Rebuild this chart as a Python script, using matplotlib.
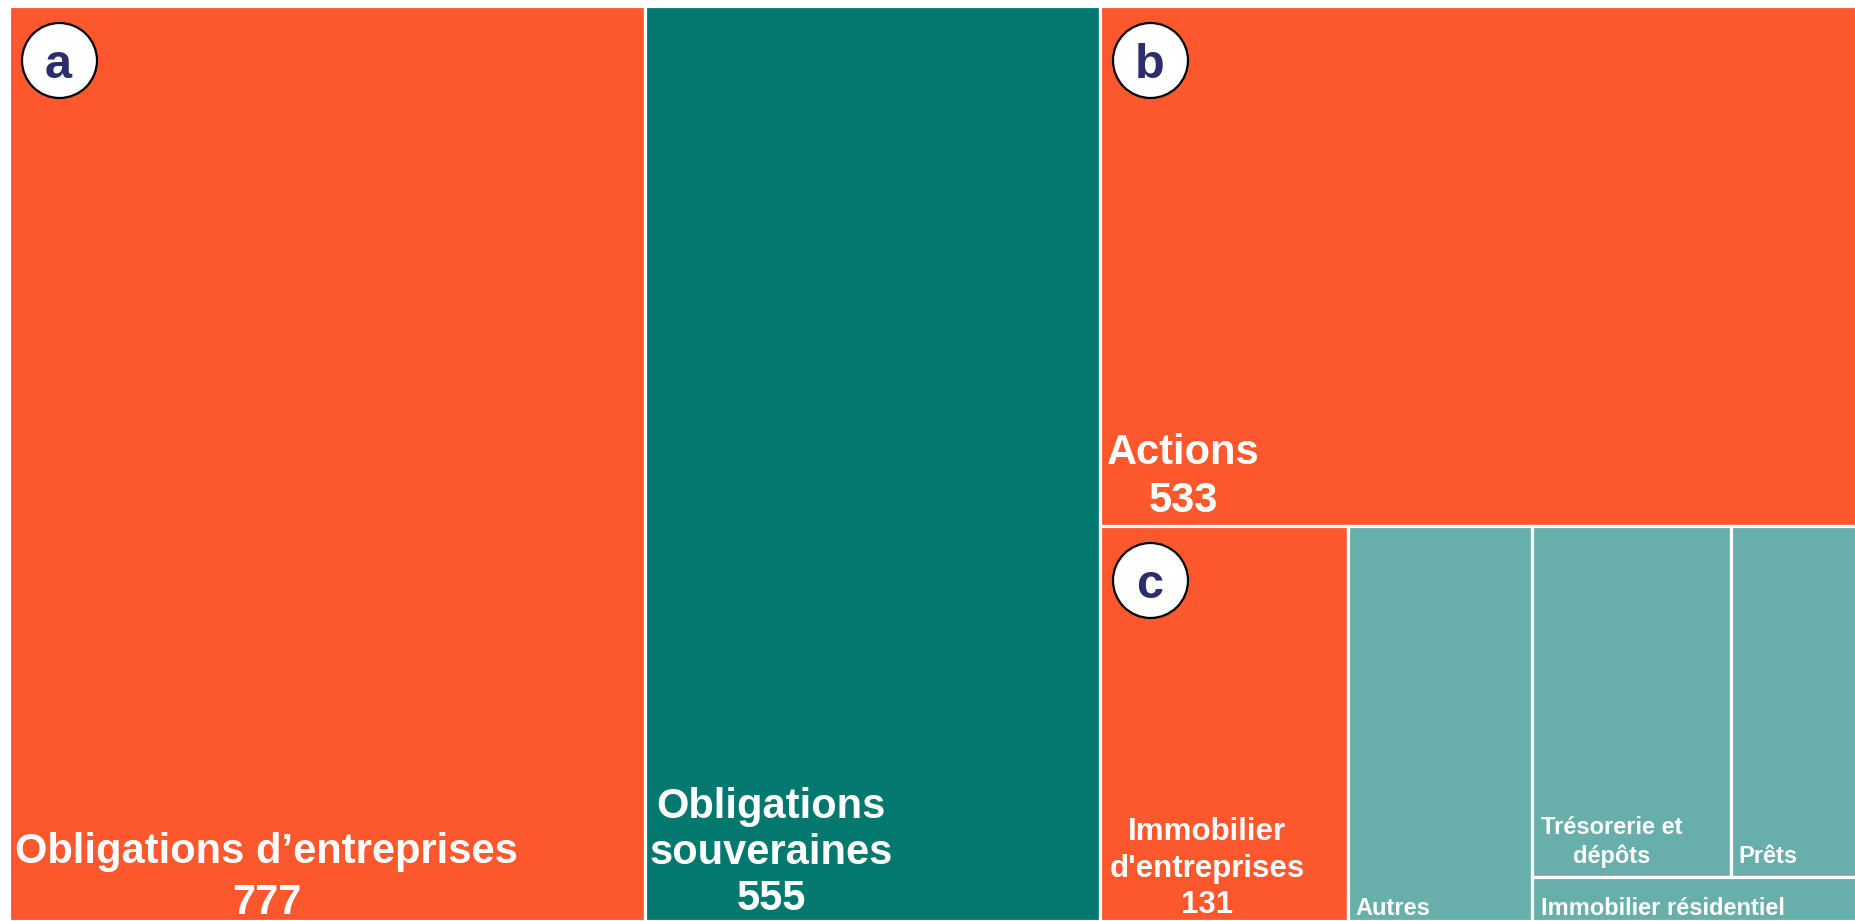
import matplotlib.pyplot as plt
from matplotlib.patches import Rectangle
from matplotlib.transforms import offset_copy

plt.rcParams["font.family"] = ["Liberation Sans", "DejaVu Sans"]
plt.rcParams["font.weight"] = "bold"

# tuiles du treemap (valeurs en milliards)
labels = ["Obligations d’entreprises", "Obligations\nsouveraines", "Actions",
          "Immobilier\nd'entreprises", "Autres", "Trésorerie et\ndépôts", "Prêts",
          "Immobilier résidentiel"]
values = [777, 555, 533, 131, 97, 93, 65, 20]
show_value = [True, True, True, True, False, False, False, False]
badges = {0: "a", 2: "b", 3: "c"}

ORANGE = "#fc572d"
TEAL = "#03786e"
LTEAL = "#68aeaa"
colors = [ORANGE, TEAL, ORANGE, ORANGE, LTEAL, LTEAL, LTEAL, LTEAL]

# découpage : 'h' = côte à côte, 'v' = empilé
tree = ("h", [0, 1, ("v", [2, ("h", [3, 4, ("v", [("h", [5, 6]), 7])])])])

# étiquettes : décalage (px) depuis le coin bas-gauche de la tuile jusqu'à
# la ligne de base de la dernière ligne ; ha, taille, interligne
label_style = [
    (258, 7, "center", 30, 1.36),
    (126, 11, "center", 30, 1.19),
    (83, 14, "center", 30, 1.25),
    (107, 8, "center", 22.5, 1.28),
    (7, 6, "left", 17, 1.2),
    (80, 14, "center", 17, 1.28),
    (8, 14, "left", 17, 1.2),
    (9, 6, "left", 17, 1.2),
]


def total(node):
    if isinstance(node, int):
        return values[node]
    return sum(total(k) for k in node[1])


def layout(node, x, y, w, h, out):
    if isinstance(node, int):
        out[node] = (x, y, w, h)
        return
    d, kids = node
    s = total(node)
    for k in kids:
        f = total(k) / s
        if d == "h":
            layout(k, x, y, w * f, h, out)
            x += w * f
        else:
            layout(k, x, y, w, h * f, out)
            y += h * f


rects = {}
layout(tree, 0, 0, 1, 1, rects)

W, H = 1855, 921
fig = plt.figure(figsize=(W / 100, H / 100), dpi=100)
ax = fig.add_axes([8.5 / W, 0, 1 - 8.5 / W, (H - 6.5) / H])
ax.set_xlim(0, 0.9922)   # le bord droit est rogné
ax.set_ylim(1, 0)
ax.axis("off")

PX = 0.72  # points par pixel à 100 dpi

for i in range(len(values)):
    x, y, w, h = rects[i]
    ax.add_patch(Rectangle((x, y), w, h, facecolor=colors[i], edgecolor="white",
                           linewidth=2.3))
    txt = labels[i]
    if show_value[i]:
        txt += "\n" + str(values[i])
    dx, dy, ha, fs, ls = label_style[i]
    ax.annotate(txt, xy=(x, y + h), xytext=(dx * PX, dy * PX), textcoords="offset points",
                ha=ha, va="baseline", multialignment="center", fontsize=fs,
                linespacing=ls, color="white", fontweight="bold", annotation_clip=False)

    if i in badges:
        tr = offset_copy(ax.transData, fig=fig, x=50 * PX, y=-54 * PX, units="points")
        ax.plot([x], [y], marker="o", ms=54, mfc="white", mec="black", mew=1.6,
                transform=tr, clip_on=False)
        tr2 = offset_copy(ax.transData, fig=fig, x=50 * PX, y=(-54 - 18) * PX, units="points")
        ax.text(x, y, badges[i], transform=tr2, ha="center", va="baseline",
                fontsize=35, fontweight="bold", color="#2b2d6c")

fig.savefig("out.png", dpi=100)
